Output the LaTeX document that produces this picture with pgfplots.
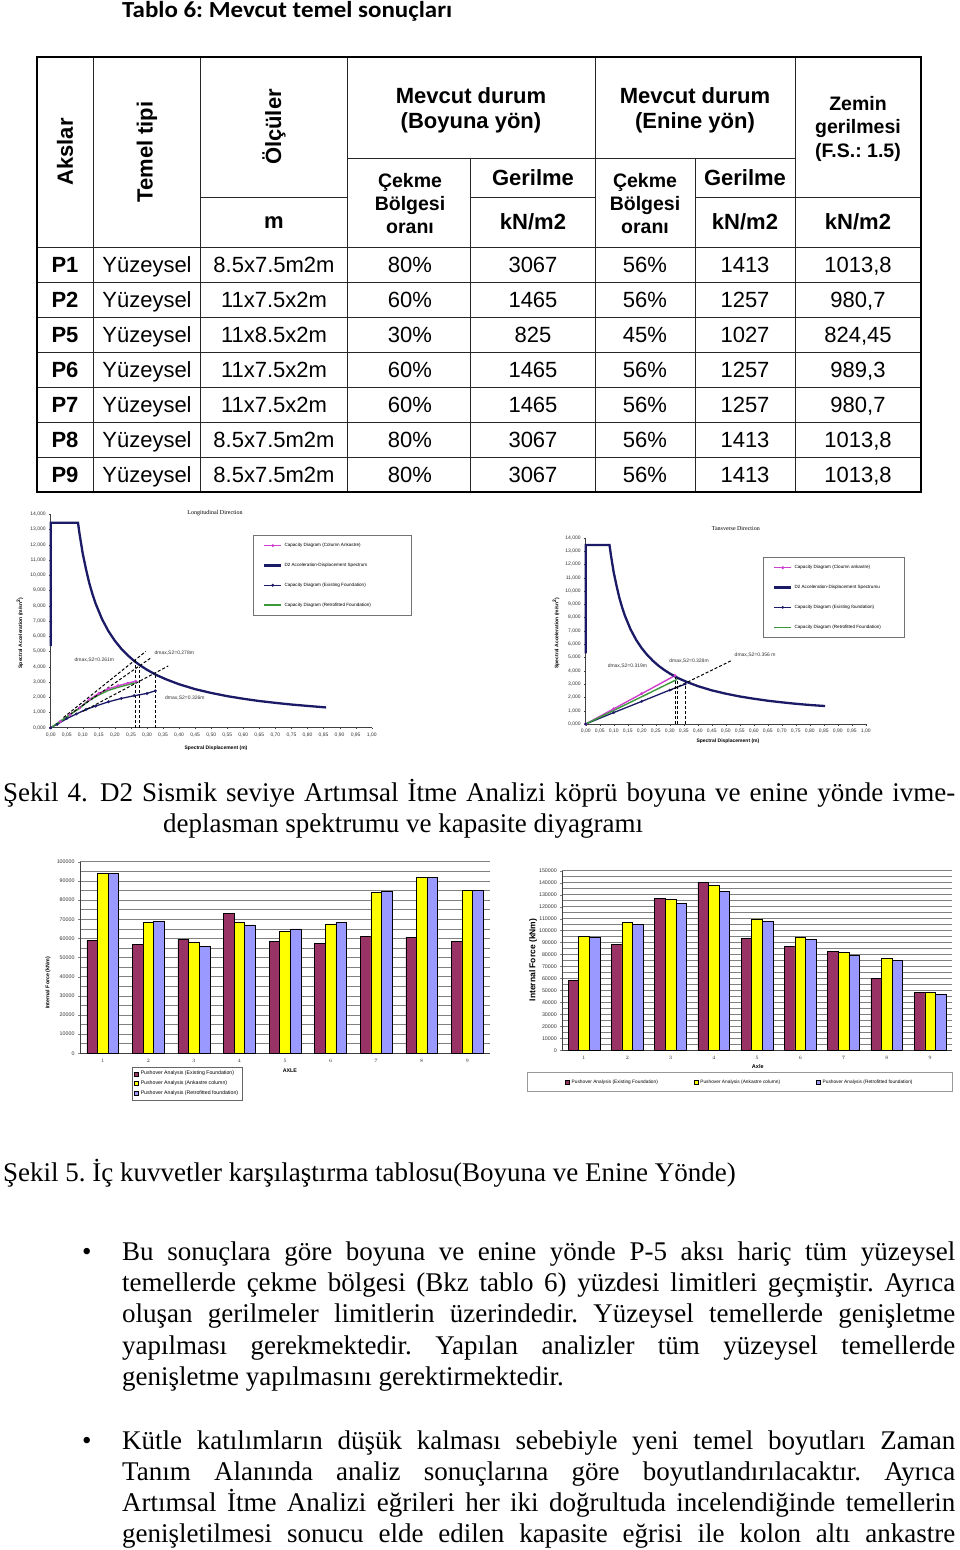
\documentclass[border=0pt]{standalone}
\usepackage{pgfplots}
\pgfplotsset{compat=1.18}
\usepackage{pgfplotstable}
\usepackage{graphicx}
\usepackage{fontspec}
\setmainfont{Liberation Serif}
\newfontfamily\arial{Liberation Sans}
\newfontfamily\calibri{Carlito}
\frenchspacing

\definecolor{navy}{HTML}{1A1A66}
\definecolor{magen}{HTML}{D040D0}
\definecolor{grn}{HTML}{3A9A3A}
\definecolor{maroon}{HTML}{993366}
\definecolor{yel}{HTML}{FFFF00}
\definecolor{lav}{HTML}{9999FF}

\newsavebox\jbox
\newcommand\jline[2]{\sbox\jbox{#2}\ifdim\wd\jbox>#1\relax\resizebox{#1}{\height}{\usebox\jbox}\else\makebox[#1][s]{#2}\fi}
\newcommand\body{\fontsize{27}{32}\selectfont}

\pgfplotstableread{
x a b c
1 59000 94000 94000
2 57000 68500 69000
3 59500 58000 56000
4 73000 68500 67000
5 58500 63500 65000
6 57500 67500 68500
7 61000 84000 84500
8 60500 92000 92000
9 58500 85000 85000
}\longdata

\pgfplotstableread{
x a b c
1 58700 95400 94300
2 88500 106800 105400
3 127200 126100 122500
4 140300 137500 132800
5 93500 109700 108000
6 86800 94600 92700
7 82900 81500 79600
8 60100 76800 74900
9 48100 48100 47000
}\transdata

\pgfplotsset{
 cap/.style={
  scale only axis, clip=false,
  xmin=0,xmax=1,ymin=0,ymax=14,
  axis x line*=bottom, axis y line*=left,
  axis line style={black!75, line width=0.5pt},
  xtick={0,0.05,0.1,0.15,0.2,0.25,0.3,0.35,0.4,0.45,0.5,0.55,0.6,0.65,0.7,0.75,0.8,0.85,0.9,0.95,1},
  ytick={0,1,2,3,4,5,6,7,8,9,10,11,12,13,14},
  tick align=outside, major tick length=1.5pt, tick style={black!75},
  tick label style={font=\arial\fontsize{5}{6}\selectfont, text=black!80},
  xticklabel style={/pgf/number format/.cd,fixed,fixed zerofill,precision=2,use comma,assume math mode=true},
  yticklabel style={/pgf/number format/.cd,fixed,fixed zerofill,precision=3,use comma,assume math mode=true},
  xlabel={Spectral Displacement (m)},
  ylabel={Spectral Acceleration (m/sn\textsuperscript{2})},
  label style={font=\arial\bfseries\fontsize{5}{6}\selectfont},
  legend cell align=left,
  legend style={draw=black!55, fill=white, font=\arial\fontsize{4.6}{5.5}\selectfont,
     inner xsep=10pt, inner ysep=6pt, row sep=11pt},
 },
 dsh/.style={forget plot, black, line width=1pt, dash pattern=on 3pt off 2pt},
 barc/.style={
  scale only axis, ybar=0pt, bar width=10.6pt,
  xmin=0.5, xmax=9.5, ymin=0, xtick={1,2,3,4,5,6,7,8,9},
  axis x line*=bottom, axis y line*=left,
  axis line style={black!75, line width=0.5pt},
  ytick distance=10000, minor y tick num=1,
  ymajorgrids, yminorgrids,
  major grid style={black!50, line width=0.5pt},
  minor grid style={black!50, line width=0.5pt},
  xtick style={draw=none}, minor tick length=0pt, major tick length=2pt, tick align=outside,
  scaled y ticks=false,
  tick label style={font=\arial\fontsize{5.3}{6}\selectfont, text=black!80},
  yticklabel style={/pgf/number format/.cd,fixed,1000 sep={},assume math mode=true},
  every axis plot/.append style={draw=black, line width=0.5pt},
  legend image code/.code={\draw[#1] (0pt,-2pt) rectangle (4pt,2pt);},
  legend cell align=left,
 },
}

\begin{document}
\begin{tikzpicture}
\path[use as bounding box] (0,0) rectangle (960pt,-1550pt);
\fill[white] (0,0) rectangle (960pt,-1550pt);

% ---------- Title
\node[anchor=base west, inner sep=0, font=\calibri\bfseries\fontsize{23}{27}\selectfont] at (122pt,-17.5pt) {\resizebox{330pt}{\height}{Tablo 6: Mevcut temel sonuçları}};

% ---------- Table lines
\draw[line width=1pt, black!85]
  (93pt,-57pt) -- (93pt,-492pt)
  (200pt,-57pt) -- (200pt,-492pt)
  (347pt,-57pt) -- (347pt,-492pt)
  (595pt,-57pt) -- (595pt,-492pt)
  (795pt,-57pt) -- (795pt,-492pt)
  (470pt,-158pt) -- (470pt,-492pt)
  (695pt,-158pt) -- (695pt,-492pt)
  (347pt,-158pt) -- (795pt,-158pt)
  (200pt,-197pt) -- (347pt,-197pt)
  (470pt,-197pt) -- (595pt,-197pt)
  (695pt,-197pt) -- (921pt,-197pt)
  (37pt,-247pt) -- (921pt,-247pt)
  (37pt,-282pt) -- (921pt,-282pt)
  (37pt,-317pt) -- (921pt,-317pt)
  (37pt,-352pt) -- (921pt,-352pt)
  (37pt,-387pt) -- (921pt,-387pt)
  (37pt,-422pt) -- (921pt,-422pt)
  (37pt,-457pt) -- (921pt,-457pt);
\draw[line width=2pt, black] (37pt,-57pt) rectangle (921pt,-492pt);

% ---------- Table text
\begin{scope}[every node/.style={inner sep=0, anchor=base}, font=\arial\fontsize{22}{26}\selectfont]
\node[rotate=90, anchor=center] at (65pt,-152pt) {\bfseries Akslar};
\node[rotate=90, anchor=center] at (147pt,-152pt) {\bfseries Temel tipi};
\node[rotate=90, anchor=center] at (274pt,-127pt) {\bfseries Ölçüler};
\node at (274pt,-228pt) {\bfseries m};
\node at (471pt,-103pt) {\bfseries Mevcut durum};
\node at (471pt,-128pt) {\bfseries (Boyuna yön)};
\node at (695pt,-103pt) {\bfseries Mevcut durum};
\node at (695pt,-128pt) {\bfseries (Enine yön)};
\node at (533pt,-185pt) {\bfseries Gerilme};
\node at (533pt,-229pt) {\bfseries kN/m2};
\node at (745pt,-185pt) {\bfseries Gerilme};
\node at (745pt,-229pt) {\bfseries kN/m2};
\node at (858pt,-229pt) {\bfseries kN/m2};
\end{scope}
\begin{scope}[every node/.style={inner sep=0, anchor=base}, font=\arial\bfseries\fontsize{19.5}{23}\selectfont]
\node at (410pt,-187pt) {Çekme};
\node at (410pt,-210pt) {Bölgesi};
\node at (410pt,-233pt) {oranı};
\node at (645pt,-187pt) {Çekme};
\node at (645pt,-210pt) {Bölgesi};
\node at (645pt,-233pt) {oranı};
\node at (858pt,-110pt) {Zemin};
\node at (858pt,-133pt) {gerilmesi};
\node at (858pt,-157pt) {(F.S.: 1.5)};
\end{scope}

\newcommand\trow[9]{%
 \node at (65pt,-#1pt) {\bfseries #2};
 \node at (147pt,-#1pt) {#3};
 \node at (274pt,-#1pt) {#4};
 \node at (410pt,-#1pt) {#5};
 \node at (533pt,-#1pt) {#6};
 \node at (645pt,-#1pt) {#7};
 \node at (745pt,-#1pt) {#8};
 \node at (858pt,-#1pt) {#9};}
\begin{scope}[every node/.style={inner sep=0, anchor=base}, font=\arial\fontsize{22}{26}\selectfont]
\trow{272}{P1}{Yüzeysel}{8.5x7.5m2m}{80\%}{3067}{56\%}{1413}{1013,8}
\trow{307}{P2}{Yüzeysel}{11x7.5x2m}{60\%}{1465}{56\%}{1257}{980,7}
\trow{342}{P5}{Yüzeysel}{11x8.5x2m}{30\%}{825}{45\%}{1027}{824,45}
\trow{377}{P6}{Yüzeysel}{11x7.5x2m}{60\%}{1465}{56\%}{1257}{989,3}
\trow{412}{P7}{Yüzeysel}{11x7.5x2m}{60\%}{1465}{56\%}{1257}{980,7}
\trow{447}{P8}{Yüzeysel}{8.5x7.5m2m}{80\%}{3067}{56\%}{1413}{1013,8}
\trow{482}{P9}{Yüzeysel}{8.5x7.5m2m}{80\%}{3067}{56\%}{1413}{1013,8}
\end{scope}

% ---------- Chart A: Longitudinal capacity spectrum
\begin{axis}[cap, width=321pt, height=213.4pt, at={(50.7pt,-727.7pt)}, anchor=south west,
  xlabel style={at={(axis description cs:0.515,-0.095)}, anchor=center},
  ylabel style={at={(axis description cs:-0.0956,0.444)}, anchor=center},
  legend style={at={(0.630,0.903)}, anchor=north west}]
\addplot[magen, line width=1.4pt, mark=*, mark size=0.7pt] coordinates {(0,0) (0.03,0.42) (0.06,0.85) (0.09,1.3) (0.12,1.85) (0.15,2.25) (0.18,2.55) (0.21,2.75) (0.24,2.92) (0.265,3.05)};
\addlegendentry{\makebox[115pt][l]{Capacity Diagram (Column Ankastre)}}
\addplot[navy, line width=2.3pt] coordinates {(0,5.35) (0,13.45) (0.085,13.45) (0.09,12.7) (0.10,11.4) (0.11,10.4) (0.12,9.5) (0.13,8.77) (0.14,8.14) (0.16,7.12) (0.18,6.33) (0.20,5.70) (0.22,5.18) (0.24,4.75) (0.26,4.38) (0.28,4.07) (0.30,3.80) (0.33,3.45) (0.36,3.17) (0.40,2.85) (0.45,2.53) (0.50,2.28) (0.55,2.07) (0.60,1.90) (0.65,1.75) (0.70,1.63) (0.75,1.52) (0.80,1.43) (0.858,1.33)};
\addlegendentry{D2 Acceleration-Displacement Spectrum}
\addplot[navy, line width=1.3pt, mark=*, mark size=0.7pt] coordinates {(0,0) (0.02,0.22) (0.05,0.6) (0.08,0.9) (0.11,1.2) (0.14,1.42) (0.18,1.7) (0.22,1.92) (0.26,2.1) (0.30,2.25) (0.326,2.42)};
\addlegendentry{Capacity Diagram (Existing Foundation)}
\addplot[grn, line width=1.4pt] coordinates {(0,0) (0.03,0.42) (0.06,0.85) (0.09,1.28) (0.12,1.8) (0.15,2.15) (0.18,2.45) (0.21,2.65) (0.24,2.82) (0.265,2.95)};
\addlegendentry{Capacity Diagram (Retrofitted Foundation)}
\addplot[dsh] coordinates {(0.04,0.67) (0.296,5.0)};
\addplot[dsh] coordinates {(0.06,0.88) (0.31,4.55)};
\addplot[dsh] coordinates {(0.10,1.07) (0.366,4.05)};
\addplot[dsh] coordinates {(0.264,0) (0.264,4.5)};
\addplot[dsh] coordinates {(0.276,0) (0.276,4.0)};
\addplot[dsh] coordinates {(0.327,0) (0.327,3.55)};
\node[font=\arial\fontsize{5}{6}\selectfont, text=black!80] at (axis cs:0.136,4.44) {dmax,S2=0.261m};
\node[font=\arial\fontsize{5}{6}\selectfont, text=black!80] at (axis cs:0.385,4.92) {dmax,S2=0.278m};
\node[font=\arial\fontsize{5}{6}\selectfont, text=black!80] at (axis cs:0.418,1.93) {dmax,S2=0.326m};
\node[font=\rmfamily\fontsize{6}{7}\selectfont] at (axis description cs:0.512,1.006) {Longitudinal Direction};
\end{axis}

% ---------- Chart B: Transverse capacity spectrum
\begin{axis}[cap, width=280pt, height=186.3pt, at={(585.7pt,-724pt)}, anchor=south west,
  xlabel style={at={(axis description cs:0.508,-0.091)}, anchor=center},
  ylabel style={at={(axis description cs:-0.106,0.488)}, anchor=center},
  legend style={at={(0.633,0.896)}, anchor=north west}]
\addplot[magen, line width=1.4pt, mark=*, mark size=0.7pt] coordinates {(0,0) (0.10,1.14) (0.20,2.28) (0.319,3.64)};
\addlegendentry{\makebox[98pt][l]{Capacity Diagram (Cloumn ankastre)}}
\addplot[navy, line width=2.3pt] coordinates {(0,5.3) (0,13.45) (0.085,13.45) (0.09,12.7) (0.10,11.4) (0.11,10.4) (0.12,9.5) (0.13,8.77) (0.14,8.14) (0.16,7.12) (0.18,6.33) (0.20,5.70) (0.22,5.18) (0.24,4.75) (0.26,4.38) (0.28,4.07) (0.30,3.80) (0.33,3.45) (0.36,3.17) (0.40,2.85) (0.45,2.53) (0.50,2.28) (0.55,2.07) (0.60,1.90) (0.65,1.75) (0.70,1.63) (0.75,1.52) (0.80,1.43) (0.855,1.35)};
\addlegendentry{D2 Acceleration-Displacement Spectrumu}
\addplot[navy, line width=1.3pt, mark=*, mark size=0.6pt] coordinates {(0,0) (0.10,0.86) (0.20,1.7) (0.30,2.55) (0.356,3.0)};
\addlegendentry{Capacity Diagram (Existing foundation)}
\addplot[grn, line width=1.4pt] coordinates {(0,0) (0.10,1.02) (0.20,2.05) (0.327,3.36)};
\addlegendentry{Capacity Diagram (Retrofitted Foundation)}
\addplot[dsh] coordinates {(0.30,2.5) (0.52,4.76)};
\addplot[dsh] coordinates {(0.319,0) (0.319,3.6)};
\addplot[dsh] coordinates {(0.328,0) (0.328,3.45)};
\addplot[dsh] coordinates {(0.356,0) (0.356,3.15)};
\node[font=\arial\fontsize{5}{6}\selectfont, text=black!80] at (axis cs:0.149,4.38) {dmax,S2=0.319m};
\node[font=\arial\fontsize{5}{6}\selectfont, text=black!80] at (axis cs:0.369,4.73) {dmax,S2=0.328m};
\node[font=\arial\fontsize{5}{6}\selectfont, text=black!80] at (axis cs:0.605,5.18) {dmax,S2=0.356 m};
\node[font=\rmfamily\fontsize{6}{7}\selectfont] at (axis description cs:0.536,1.047) {Tansverse Direction};
\end{axis}

% ---------- Chart C: Longitudinal internal forces
\begin{axis}[barc, width=410pt, height=191.6pt, at={(80pt,-1053.3pt)}, anchor=south west,
  ymax=100000, xlabel={AXLE}, ylabel={Internal Force (kNm)},
  label style={font=\arial\bfseries\fontsize{5.3}{6}\selectfont},
  xlabel style={at={(axis description cs:0.512,-0.092)}, anchor=center},
  ylabel style={at={(axis description cs:-0.078,0.367)}, anchor=center},
  legend style={at={(0.127,-0.0715)}, anchor=north west, draw=black!60, font=\arial\fontsize{5.2}{6}\selectfont, inner xsep=2pt, inner ysep=2pt, row sep=0.4pt}]
\addplot[fill=maroon] table[x=x,y=a]{\longdata};
\addlegendentry{Pushover Analysis (Existing Foundation)}
\addplot[fill=yel] table[x=x,y=b]{\longdata};
\addlegendentry{Pushover Analysis (Ankastre column)}
\addplot[fill=lav] table[x=x,y=c]{\longdata};
\addlegendentry{Pushover Analysis (Retrofitted foundation)}
\node[font=\rmfamily\fontsize{5.5}{6}\selectfont] at (axis description cs:0.451,1.1) {Longitudinal Direction};
\end{axis}

% ---------- Chart D: Transverse internal forces
\begin{axis}[barc, width=389.4pt, height=179.6pt, at={(562.3pt,-1050.3pt)}, anchor=south west,
  ymax=150000, xlabel={Axle}, ylabel={Internal Force (kNm)},
  xlabel style={font=\arial\bfseries\fontsize{5.5}{6}\selectfont, at={(axis description cs:0.502,-0.093)}, anchor=center},
  ylabel style={font=\arial\bfseries\fontsize{8.5}{10}\selectfont, at={(axis description cs:-0.075,0.503)}, anchor=center},
  legend columns=3,
  legend style={at={(0.456,-0.1765)}, anchor=center, draw=black!40, font=\arial\fontsize{4.8}{5.5}\selectfont, inner xsep=38pt, inner ysep=5pt, /tikz/every even column/.append style={column sep=34pt}}]
\addplot[fill=maroon] table[x=x,y=a]{\transdata};
\addlegendentry{Pushover Analysis (Existing Foundation)}
\addplot[fill=yel] table[x=x,y=b]{\transdata};
\addlegendentry{Pushover Analysis (Ankastre column)}
\addplot[fill=lav] table[x=x,y=c]{\transdata};
\addlegendentry{Pushover Analysis (Retrofitted foundation)}
\node[font=\arial\bfseries\fontsize{5.5}{6}\selectfont] at (axis description cs:0.456,1.099) {Transverse Direction};
\end{axis}

% ---------- Captions and body text
\begin{scope}[every node/.style={inner sep=0, anchor=base west}, font=\body]
\node at (3pt,-801pt) {\jline{952pt}{Şekil 4.\hspace{3pt} D2 Sismik seviye Artımsal İtme Analizi köprü boyuna ve enine yönde ivme-}};
\node at (163pt,-832pt) {deplasman spektrumu ve kapasite diyagramı};
\node at (3pt,-1181pt) {Şekil 5. İç kuvvetler karşılaştırma tablosu(Boyuna ve Enine Yönde)};
\node at (82pt,-1260pt) {•};
\node at (122pt,-1260pt) {\jline{833pt}{Bu sonuçlara göre boyuna ve enine yönde P-5 aksı hariç tüm yüzeysel}};
\node at (122pt,-1291pt) {\jline{833pt}{temellerde çekme bölgesi (Bkz tablo 6) yüzdesi limitleri geçmiştir. Ayrıca}};
\node at (122pt,-1322pt) {\jline{833pt}{oluşan gerilmeler limitlerin üzerindedir. Yüzeysel temellerde genişletme}};
\node at (122pt,-1354pt) {\jline{833pt}{yapılması gerekmektedir. Yapılan analizler tüm yüzeysel temellerde}};
\node at (122pt,-1385pt) {genişletme yapılmasını gerektirmektedir.};
\node at (82pt,-1449pt) {•};
\node at (122pt,-1449pt) {\jline{833pt}{Kütle katılımların düşük kalması sebebiyle yeni temel boyutları Zaman}};
\node at (122pt,-1480pt) {\jline{833pt}{Tanım Alanında analiz sonuçlarına göre boyutlandırılacaktır. Ayrıca}};
\node at (122pt,-1511pt) {\jline{833pt}{Artımsal İtme Analizi eğrileri her iki doğrultuda incelendiğinde temellerin}};
\node at (122pt,-1542pt) {\jline{833pt}{genişletilmesi sonucu elde edilen kapasite eğrisi ile kolon altı ankastre}};
\end{scope}
\end{tikzpicture}
\end{document}
